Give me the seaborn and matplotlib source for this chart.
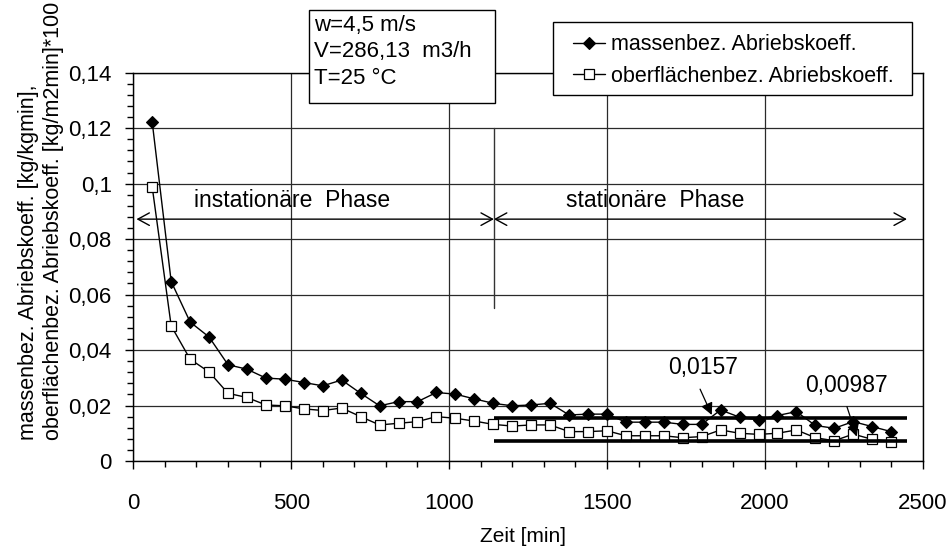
import matplotlib
matplotlib.use("Agg")
import matplotlib.pyplot as plt
import numpy as np
import pandas as pd
import seaborn as sns
from matplotlib.patches import Rectangle
from matplotlib.ticker import MultipleLocator, FuncFormatter

# ---------------- data ----------------
zeit = [60, 120, 180, 240, 300, 360, 420, 480, 540, 600,
        660, 720, 780, 840, 900, 960, 1020, 1080, 1140, 1200,
        1260, 1320, 1380, 1440, 1500, 1560, 1620, 1680, 1740, 1800,
        1860, 1920, 1980, 2040, 2100, 2160, 2220, 2280, 2340, 2400]
massenbez = [0.1221, 0.0647, 0.0501, 0.0447, 0.0347, 0.0331, 0.0299, 0.0295, 0.0283, 0.0271,
             0.0292, 0.0244, 0.0199, 0.0214, 0.0214, 0.0247, 0.0241, 0.0224, 0.0208, 0.0199,
             0.0202, 0.0208, 0.0166, 0.0169, 0.0169, 0.0140, 0.0140, 0.0140, 0.0132, 0.0132,
             0.0184, 0.0158, 0.0148, 0.0164, 0.0178, 0.0128, 0.0118, 0.0142, 0.0124, 0.0106]
oberflaechenbez = [0.0987, 0.0487, 0.0367, 0.0321, 0.0244, 0.0229, 0.0202, 0.0199, 0.0188, 0.0182,
                   0.0191, 0.0160, 0.0130, 0.0136, 0.0142, 0.0160, 0.0154, 0.0144, 0.0132, 0.0126,
                   0.0130, 0.0130, 0.0106, 0.0106, 0.0109, 0.0091, 0.0091, 0.0091, 0.0084, 0.0088,
                   0.0112, 0.0100, 0.0096, 0.0100, 0.0112, 0.0084, 0.0073, 0.0097, 0.0078, 0.0070]
series_labels = ["massenbez. Abriebskoeff.", "oberflächenbez. Abriebskoeff."]

phase_labels = ["instationäre  Phase", "stationäre  Phase"]
phase_start, phase_switch, phase_end = 10, 1142, 2450
phase_arrow_y = 0.0872
phase_text_x = [504, 1654]
phase_text_y = 0.0914
switch_line_y = [0.055, 0.12]

mean_values = [0.0155, 0.0071]
mean_labels = ["0,0157", "0,00987"]
mean_text_xy = [(1805, 0.0338), (2260, 0.0271)]
mean_arrow_from = [(1795, 0.0259), (2260, 0.0196)]
mean_arrow_to = [(1832, 0.0166), (2291, 0.0088)]

info_lines = ["w=4,5 m/s", "V=286,13  m3/h", "T=25 °C"]

x_label = "Zeit [min]"
y_label = "massenbez. Abriebskoeff. [kg/kgmin],\noberflächenbez. Abriebskoeff. [kg/m2min]*100"

# ---------------- style ----------------
sns.set_theme(style="white")
plt.rcParams["font.family"] = ["Liberation Sans", "DejaVu Sans"]

W, H = 951, 551
fig = plt.figure(figsize=(W / 100, H / 100), dpi=100)
fig.patch.set_facecolor("white")
ax_l, ax_r, ax_t, ax_b = 133.3, 922.7, 72.7, 461.0
ax = fig.add_axes([ax_l / W, (H - ax_b) / H, (ax_r - ax_l) / W, (ax_b - ax_t) / H])
ax.set_facecolor("white")

df = pd.DataFrame({"Zeit": zeit, "mass": massenbez, "surf": oberflaechenbez})
sns.lineplot(data=df, x="Zeit", y="mass", ax=ax, color="black", lw=1.0,
             marker="D", markersize=6.4, markerfacecolor="black",
             markeredgecolor="black", markeredgewidth=0.8, zorder=4)
sns.lineplot(data=df, x="Zeit", y="surf", ax=ax, color="black", lw=1.0,
             marker="s", markersize=7.0, markerfacecolor="white",
             markeredgecolor="black", markeredgewidth=0.9, zorder=4)

ax.set_xlim(0, 2500)
ax.set_ylim(0, 0.14)
ax.xaxis.set_major_locator(MultipleLocator(500))
ax.xaxis.set_minor_locator(MultipleLocator(100))
ax.yaxis.set_major_locator(MultipleLocator(0.02))
ax.yaxis.set_minor_locator(MultipleLocator(0.004))
ax.yaxis.set_major_formatter(FuncFormatter(lambda v, p: f"{v:g}".replace(".", ",")))
ax.xaxis.set_major_formatter(FuncFormatter(lambda v, p: f"{v:g}"))
ax.grid(True, which="major", color="#2a2a2a", lw=0.9)
ax.set_axisbelow(True)
for s in ax.spines.values():
    s.set_color("black")
    s.set_linewidth(1.0)
    s.set_visible(True)
ax.tick_params(which="both", direction="out", color="black", width=1.0,
               bottom=True, left=True, top=False, right=False)
ax.tick_params(which="major", length=6)
ax.tick_params(which="minor", length=4.3)
ax.tick_params(axis="x", which="major", labelsize=16, pad=17, labelcolor="black")
ax.tick_params(axis="y", which="major", labelsize=16, pad=9.5, labelcolor="black")

ax.set_xlabel(x_label, fontsize=15, color="black", va="top")
ax.xaxis.set_label_coords((523 - ax_l) / (ax_r - ax_l), (ax_b - 527) / (ax_b - ax_t))
ax.set_ylabel(y_label, fontsize=15.5, color="black", ha="left", va="bottom",
              multialignment="left", linespacing=1.25)
ax.yaxis.set_label_coords((64 - ax_l) / (ax_r - ax_l), (ax_b - 440) / (ax_b - ax_t))

# phase arrows and texts
arrow_kw = dict(arrowstyle="<->, head_length=0.55, head_width=0.3", color="black",
                lw=1.0, shrinkA=0, shrinkB=0, mutation_scale=15)
ax.annotate("", xy=(phase_start, phase_arrow_y), xytext=(phase_switch, phase_arrow_y),
            arrowprops=arrow_kw, zorder=3)
ax.annotate("", xy=(phase_switch, phase_arrow_y), xytext=(phase_end, phase_arrow_y),
            arrowprops=arrow_kw, zorder=3)
ax.plot([phase_switch, phase_switch], switch_line_y, color="#333333", lw=1.0, zorder=3)
for lbl, tx in zip(phase_labels, phase_text_x):
    ax.text(tx, phase_text_y, lbl, fontsize=16.5, ha="center", va="baseline", color="black")

# mean lines and labels
for val in mean_values:
    ax.plot([phase_switch, phase_end], [val, val], color="black", lw=2.6, zorder=5,
            solid_capstyle="butt")
for lbl, txy, a0, a1 in zip(mean_labels, mean_text_xy, mean_arrow_from, mean_arrow_to):
    ax.text(txy[0], txy[1], lbl, fontsize=16.5, ha="center", va="center", color="black")
    ax.annotate("", xy=a1, xytext=a0,
                arrowprops=dict(arrowstyle="-|>, head_length=0.6, head_width=0.3",
                                color="black", lw=0.9, shrinkA=0, shrinkB=0,
                                mutation_scale=12), zorder=6)

# info box (figure level, drawn over the axes top)
bx0, by0, bx1, by1 = 309, 10, 494.7, 103.3
fig.add_artist(Rectangle((bx0 / W, 1 - by1 / H), (bx1 - bx0) / W, (by1 - by0) / H,
                         transform=fig.transFigure, facecolor="white",
                         edgecolor="black", lw=1.0, zorder=4.5))
for i, line in enumerate(info_lines):
    fig.text(314 / W, 1 - (25 + 27 * i) / H, line, fontsize=16, ha="left",
             va="center", color="black", zorder=6)

# legend box
lx0, ly0, lx1, ly1 = 553.3, 21.7, 911.7, 95.0
fig.add_artist(Rectangle((lx0 / W, 1 - ly1 / H), (lx1 - lx0) / W, (ly1 - ly0) / H,
                         transform=fig.transFigure, facecolor="white",
                         edgecolor="black", lw=1.0, zorder=4.5))
handles = ax.get_lines()[:2]
leg = fig.legend(handles, series_labels, loc="center",
                 bbox_to_anchor=(733.3 / W, 1 - 60.5 / H), bbox_transform=fig.transFigure,
                 frameon=False, fontsize=15.5, handlelength=1.5, handletextpad=0.25,
                 labelspacing=0.5, borderpad=0, borderaxespad=0)
leg.set_zorder(6)
for t in leg.get_texts():
    t.set_color("black")

fig.savefig("out.png", dpi=100, facecolor="white")
